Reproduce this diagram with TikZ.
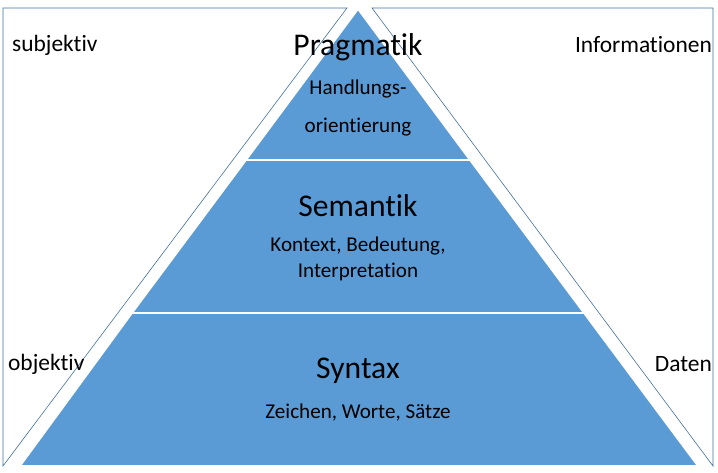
\documentclass[tikz,border=0pt]{standalone}
\usepackage{fontspec}
\setmainfont{Carlito}[Ligatures=NoCommon]
\definecolor{pyrblue}{RGB}{91,155,213}
\definecolor{edgeblue}{RGB}{65,113,156}
\tikzset{
    sidebox/.style={draw=edgeblue, fill=white, line width=0.5pt},
    layer/.style={fill=pyrblue, draw=white, line width=1.5pt},
    title/.style={font=\fontsize{27}{30}\selectfont, text centered},
    desc/.style={font=\fontsize{18}{22}\selectfont, text centered, align=center},
    sidelabel/.style={font=\fontsize{20}{24}\selectfont}
}
\begin{document}
\begin{tikzpicture}[x=0.03cm, y=-0.03cm]
\useasboundingbox (0,0) rectangle (718,473);
% side triangles
\draw[sidebox] (3,8) -- (347,8) -- (3,466) -- cycle;
\draw[sidebox] (372,8) -- (713,8) -- (713,466) -- cycle;
% pyramid layers
\draw[layer] (358,9) -- (470,160) -- (246,160) -- cycle;
\draw[layer] (246,160) -- (470,160) -- (584,313) -- (132,313) -- cycle;
\draw[layer] (132,313) -- (584,313) -- (698,466) -- (20,466) -- cycle;
% texts
\node[title] (pragmatik) at (358,47) {Pragmatik};
\node[desc] (handlung) at (358,108) {Handlungs-\\[10pt]orientierung};
\node[title] (semantik) at (358,206) {Semantik};
\node[desc] (kontext) at (358,259) {Kontext, Bedeutung,\\Interpretation};
\node[title] (syntax) at (358,371) {Syntax};
\node[desc] (zeichen) at (358,413) {Zeichen, Worte, Sätze};
\node[sidelabel, anchor=west] (subjektiv) at (8,45) {subjektiv};
\node[sidelabel, anchor=east] (informationen) at (716,45) {Informationen};
\node[sidelabel, anchor=west] (objektiv) at (4,364) {objektiv};
\node[sidelabel, anchor=east] (daten) at (716,364) {Daten};
\end{tikzpicture}
\end{document}
